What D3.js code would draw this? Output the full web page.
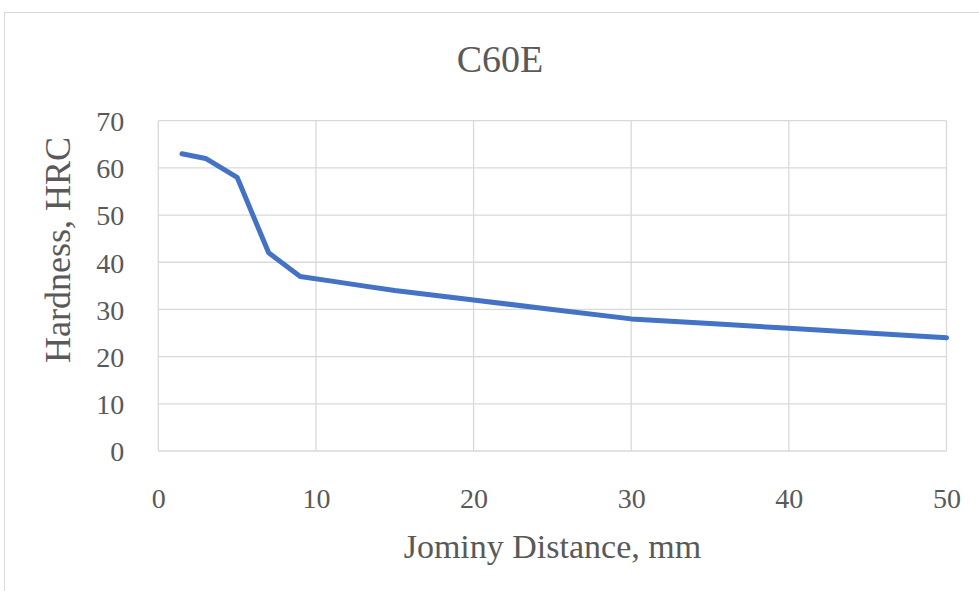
<!DOCTYPE html>
<html>
<head>
<meta charset="utf-8">
<script src="https://cdn.jsdelivr.net/npm/d3@7"></script>
<style>
  html, body { margin: 0; padding: 0; background: #fff; }
  svg { display: block; }
  text { font-family: "Liberation Serif", "Times New Roman", serif; fill: #595959; }
</style>
</head>
<body>
<svg id="chart" width="979" height="591"></svg>
<script>
// Jominy end-quench hardness profile for C60E steel
const distances = [1.5, 3, 5, 7, 9, 11, 13, 15, 20, 25, 30, 35, 40, 45, 50];
const hardness  = [63, 62, 58, 42, 37, 36, 35, 34, 32, 30, 28, 27, 26, 25, 24];
const xTicks = [0, 10, 20, 30, 40, 50];
const yTicks = [0, 10, 20, 30, 40, 50, 60, 70];
const title = "C60E";
const xTitle = "Jominy Distance, mm";
const yTitle = "Hardness, HRC";

const svg = d3.select("#chart");
const W = 979, H = 591;
const plot = { left: 158.3, right: 946.5, top: 120.7, bottom: 451 };

const x = d3.scaleLinear().domain([0, 50]).range([plot.left, plot.right]);
const y = d3.scaleLinear().domain([0, 70]).range([plot.bottom, plot.top]);

svg.append("rect").attr("width", W).attr("height", H).attr("fill", "#fff");

// chart frame
svg.append("rect")
  .attr("x", 4.5).attr("y", 12.5)
  .attr("width", 1000).attr("height", 620)
  .attr("fill", "none").attr("stroke", "#d9d9d9").attr("stroke-width", 1);

// gridlines
const grid = svg.append("g").attr("stroke", "#d9d9d9").attr("stroke-width", 1.3);
grid.selectAll("line.h").data(yTicks).join("line")
  .attr("class", "h")
  .attr("x1", plot.left).attr("x2", plot.right)
  .attr("y1", d => y(d)).attr("y2", d => y(d));
grid.selectAll("line.v").data(xTicks).join("line")
  .attr("class", "v")
  .attr("x1", d => x(d)).attr("x2", d => x(d))
  .attr("y1", plot.top).attr("y2", plot.bottom);

// axes (labels only)
const xAxis = svg.append("g")
  .attr("transform", `translate(0,${plot.bottom})`)
  .call(d3.axisBottom(x).tickValues(xTicks).tickSize(0).tickPadding(0));
xAxis.select(".domain").remove();
xAxis.selectAll("text")
  .attr("y", 57).attr("dy", null)
  .style("font-size", "28px").attr("fill", "#595959");

const yAxis = svg.append("g")
  .attr("transform", `translate(${plot.left},0)`)
  .call(d3.axisLeft(y).tickValues(yTicks).tickSize(0).tickPadding(0));
yAxis.select(".domain").remove();
yAxis.selectAll("text")
  .attr("x", -34).attr("dy", "0.35em")
  .style("font-size", "28px").attr("fill", "#595959");

// data line
const line = d3.line()
  .x((d, i) => x(distances[i]))
  .y(d => y(d));
svg.append("path")
  .datum(hardness)
  .attr("d", line)
  .attr("fill", "none")
  .attr("stroke", "#4472C4")
  .attr("stroke-width", 5)
  .attr("stroke-linejoin", "round")
  .attr("stroke-linecap", "round");

// titles
svg.append("text")
  .attr("x", 500).attr("y", 71.5)
  .attr("text-anchor", "middle")
  .style("font-size", "38px")
  .text(title);

svg.append("text")
  .attr("x", (plot.left + plot.right) / 2).attr("y", 557.5)
  .attr("text-anchor", "middle")
  .style("font-size", "34px")
  .text(xTitle);

svg.append("text")
  .attr("transform", `translate(69.5,${250}) rotate(-90)`)
  .attr("text-anchor", "middle")
  .style("font-size", "36px")
  .text(yTitle);
</script>
</body>
</html>
